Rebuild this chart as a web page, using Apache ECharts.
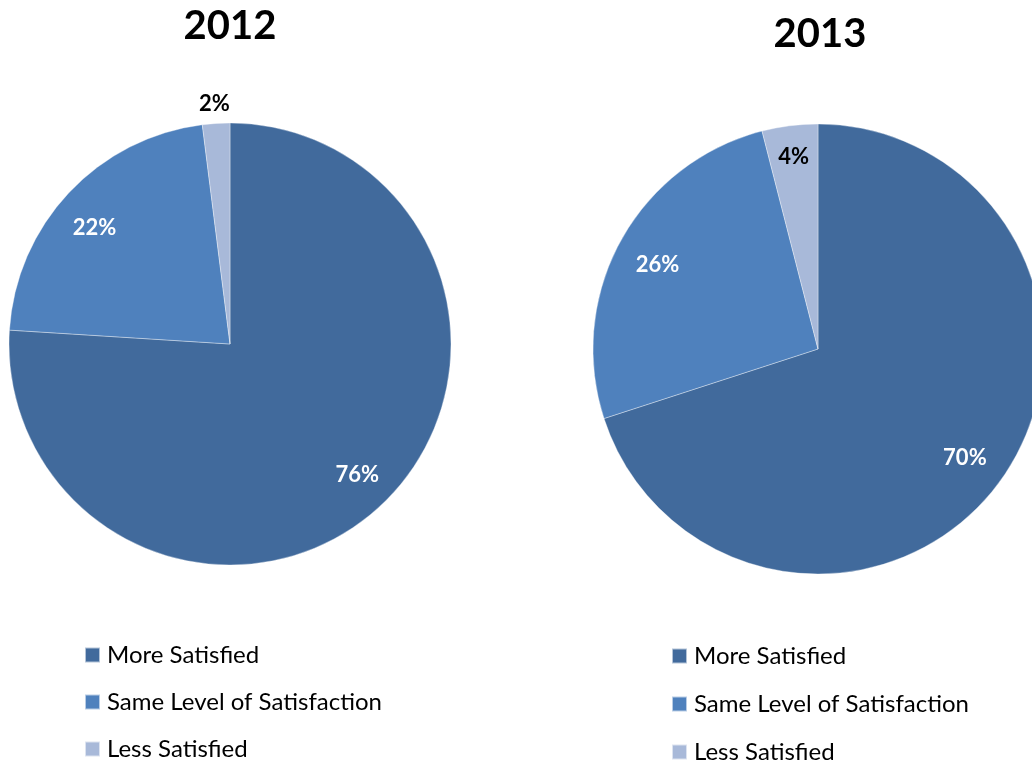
<!DOCTYPE html>
<html>
<head>
<meta charset="utf-8">
<script src="https://cdn.jsdelivr.net/npm/echarts@6/dist/echarts.min.js"></script>
<style>
  html, body { margin: 0; padding: 0; background: #fff; }
  #chart { width: 1032px; height: 761px; }
</style>
</head>
<body>
<div id="chart"></div>
<script>
// Satisfaction shares for two years
const categories = ['More Satisfied', 'Same Level of Satisfaction', 'Less Satisfied'];
const years = ['2012', '2013'];
const values2012 = [76, 22, 2];
const values2013 = [70, 26, 4];

const colors = ['#416A9C', '#4F81BD', '#A8B9D9'];
const FONT = 'Lato';

// per-year layout: pie centre, radius, title and legend placement
const layouts = [
  { center: [230, 344], radius: 221, titleX: 230, titleY: 6, legendX: 84, legendY: 643, legendGap: 23 },
  { center: [818, 349], radius: 225, titleX: 820, titleY: 14, legendX: 671, legendY: 644, legendGap: 24 }
];
// label nudges per slice (best-fit placement inside / above the pie)
const labelNudge = [
  [[2, -2], [-2, 9], [-4, -57]],
  [[-4, -1], [3, 6], [-1, -7]]
];
const labelColors = ['#fff', '#fff', '#000'];

const seriesValues = [values2012, values2013];

function pieData(values) {
  return categories.map((name, i) => ({
    name: name,
    value: values[i],
    itemStyle: { color: colors[i] }
  }));
}

function labelData(values, yi) {
  return categories.map((name, i) => ({
    name: name,
    value: values[i],
    label: { color: labelColors[i], offset: labelNudge[yi][i] }
  }));
}

const series = [];
// filled pies
years.forEach((y, yi) => {
  const L = layouts[yi];
  series.push({
    type: 'pie',
    name: y,
    center: L.center,
    radius: L.radius,
    startAngle: 90,
    clockwise: true,
    avoidLabelOverlap: false,
    label: { show: false },
    labelLine: { show: false },
    itemStyle: { borderColor: 'rgba(255,255,255,0.6)', borderWidth: 0.6 },
    emphasis: { disabled: true },
    data: pieData(seriesValues[yi])
  });
});
// transparent ring carrying the percentage labels at ~0.8 of the radius
years.forEach((y, yi) => {
  const L = layouts[yi];
  series.push({
    type: 'pie',
    name: y + ' labels',
    center: L.center,
    radius: [Math.round(L.radius * 0.63), L.radius],
    startAngle: 90,
    clockwise: true,
    silent: true,
    avoidLabelOverlap: false,
    itemStyle: { color: 'rgba(0,0,0,0)', borderWidth: 0 },
    label: {
      show: true,
      position: 'inside',
      formatter: '{c}%',
      color: '#fff',
      fontFamily: FONT,
      fontWeight: 'bold',
      fontSize: 22
    },
    labelLine: { show: false },
    emphasis: { disabled: true },
    data: labelData(seriesValues[yi], yi)
  });
});

const option = {
  backgroundColor: '#fff',
  animation: false,
  title: years.map((y, yi) => ({
    text: y,
    left: layouts[yi].titleX,
    top: layouts[yi].titleY,
    textAlign: 'center',
    padding: 0,
    textStyle: { fontFamily: FONT, fontWeight: 'bold', fontSize: 40, color: '#000' }
  })),
  legend: years.map((y, yi) => ({
    orient: 'vertical',
    left: layouts[yi].legendX,
    top: layouts[yi].legendY,
    width: 400,
    height: 300,
    padding: 0,
    icon: 'rect',
    itemWidth: 15,
    itemHeight: 15,
    itemGap: layouts[yi].legendGap,
    selectedMode: false,
    textStyle: { fontFamily: FONT, fontSize: 24, color: '#000', lineHeight: 24, padding: [0, 0, 0, 2] },
    data: categories.map((name, i) => ({ name: name, itemStyle: { color: colors[i] } }))
  })),
  series: series
};

const chart = echarts.init(document.getElementById('chart'), null, { renderer: 'canvas' });
chart.setOption(option);
</script>
</body>
</html>
